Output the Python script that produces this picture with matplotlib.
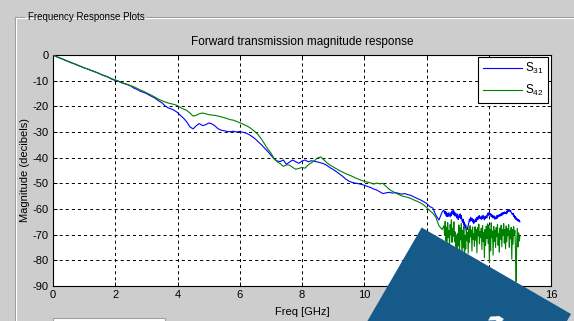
import numpy as np
import matplotlib
matplotlib.use("Agg")
import matplotlib.pyplot as plt
from matplotlib.patches import Polygon, Rectangle
from matplotlib.lines import Line2D

plt.rcParams['font.family'] = ['Liberation Sans', 'DejaVu Sans']
plt.rcParams['mathtext.fontset'] = 'custom'
plt.rcParams['mathtext.rm'] = 'Liberation Sans'
plt.rcParams['mathtext.it'] = 'Liberation Sans'
plt.rcParams['lines.scale_dashes'] = False

# ---------------- data ----------------
freq_smooth = np.round(np.arange(0.0, 12.5001, 0.1), 2)     # GHz
freq_noisy = np.round(np.arange(12.56, 15.0001, 0.02), 2)   # GHz

s31_smooth = [
    0.0, -0.6, -1.1, -1.6, -2.1, -2.6, -3.1, -3.5, -4.0, -4.5,
    -5.0, -5.4, -5.9, -6.3, -6.8, -7.3, -7.9, -8.3, -8.8, -9.5,
    -9.9, -10.2, -10.8, -11.2, -11.6, -12.1, -12.9, -13.4, -14.1, -14.5,
    -15.0, -15.7, -16.3, -17.0, -17.9, -18.6, -19.8, -20.6, -21.0, -21.6,
    -22.4, -23.6, -24.7, -26.1, -28.0, -28.8, -27.6, -26.7, -27.5, -27.2,
    -26.5, -26.8, -27.6, -28.7, -29.3, -29.5, -29.8, -29.9, -29.7, -30.0,
    -29.8, -30.1, -30.4, -31.0, -31.8, -32.7, -33.9, -35.0, -36.3, -37.6,
    -39.0, -40.4, -41.3, -41.5, -40.9, -42.6, -41.7, -40.9, -41.6, -42.2,
    -41.3, -40.9, -41.6, -41.2, -41.4, -41.7, -42.0, -42.4, -43.0, -43.9,
    -44.6, -45.4, -46.3, -47.2, -48.3, -49.1, -49.6, -49.9, -50.1, -50.4,
    -50.7, -51.2, -51.6, -52.2, -52.6, -53.3, -54.0, -53.7, -53.5, -53.8,
    -53.6, -53.9, -54.2, -54.0, -54.4, -54.7, -55.3, -55.9, -56.4, -57.1,
    -57.8, -59.0, -59.6, -62.4, -64.3, -61.2,
]
s31_noisy = [
    -60.4, -61.8, -60.9, -62.5, -61.2, -63.0, -61.7, -62.9, -61.4, -62.2,
    -63.1, -61.5, -62.6, -60.8, -61.9, -60.5, -62.3, -61.1, -62.8, -61.6,
    -62.4, -63.5, -62.0, -64.1, -62.7, -63.3, -61.9, -63.8, -62.5, -64.6,
    -65.2, -64.0, -66.3, -65.1, -67.4, -66.2, -68.5, -67.1, -68.0, -66.4,
    -65.3, -63.9, -64.8, -63.2, -64.5, -63.6, -65.1, -64.0, -65.6, -64.4,
    -65.0, -63.8, -64.9, -63.3, -64.2, -62.8, -63.9, -62.5, -63.6, -63.1,
    -64.0, -62.7, -63.8, -62.4, -63.5, -64.2, -62.9, -63.7, -62.6, -63.4,
    -62.1, -61.5, -62.6, -61.2, -62.3, -61.8, -63.0, -62.2, -63.4, -62.6,
    -63.5, -62.7, -64.0, -63.1, -63.8, -62.5, -63.6, -62.4, -63.0, -62.2,
    -62.8, -61.9, -62.6, -61.5, -62.3, -61.4, -62.0, -61.1, -61.8, -61.3,
    -61.9, -60.8, -61.5, -60.3, -61.0, -60.2, -60.9, -60.5, -61.3, -61.8,
    -62.2, -61.6, -62.9, -62.4, -63.6, -63.0, -64.2, -63.5, -64.6, -64.0,
    -64.8, -64.3, -65.0,
]

s42_smooth = [
    0.0, -0.6, -1.0, -1.5, -2.0, -2.5, -3.0, -3.5, -4.0, -4.5,
    -5.0, -5.4, -5.9, -6.4, -6.8, -7.3, -7.8, -8.2, -8.8, -9.3,
    -9.7, -10.2, -10.7, -11.1, -11.5, -12.0, -12.4, -13.0, -13.6, -14.1,
    -14.7, -15.3, -15.9, -16.6, -17.3, -17.8, -18.3, -18.7, -19.0, -19.3,
    -19.7, -20.5, -21.1, -21.6, -22.6, -23.8, -23.5, -22.9, -22.6, -22.9,
    -23.2, -23.4, -23.5, -23.8, -24.1, -24.4, -24.8, -25.2, -25.4, -25.9,
    -26.4, -26.9, -27.5, -28.1, -29.0, -30.0, -31.2, -32.8, -34.7, -36.6,
    -38.2, -40.2, -41.6, -42.3, -43.4, -42.8, -42.9, -43.8, -44.5, -44.2,
    -43.8, -44.1, -42.8, -42.0, -41.2, -40.1, -39.7, -40.8, -42.0, -42.9,
    -43.6, -44.3, -45.0, -45.6, -46.2, -46.7, -47.2, -47.8, -48.3, -48.8,
    -49.2, -49.5, -49.8, -50.3, -49.9, -50.2, -50.0, -51.2, -52.3, -53.1,
    -53.7, -54.3, -54.9, -55.2, -55.5, -55.9, -56.5, -57.0, -57.6, -58.3,
    -59.4, -60.6, -61.6, -63.2, -66.5, -68.0,
]
s42_noisy = [
    -66.5, -70.2, -64.8, -72.5, -67.0, -74.1, -65.3, -71.0, -68.4, -75.2,
    -66.1, -69.8, -64.2, -73.0, -67.5, -70.6, -65.0, -72.8, -68.9, -76.0,
    -70.1, -85.0, -69.5, -74.3, -66.2, -78.8, -67.4, -72.0, -65.6, -80.5,
    -68.3, -74.9, -66.8, -83.0, -70.2, -75.6, -67.1, -72.4, -69.0, -77.3,
    -67.8, -73.1, -66.5, -70.9, -68.2, -76.4, -67.0, -71.8, -69.6, -74.5,
    -66.9, -72.2, -68.0, -77.1, -67.3, -70.5, -65.9, -73.6, -68.8, -71.0,
    -67.5, -75.8, -66.4, -72.7, -69.1, -79.0, -68.0, -74.2, -66.7, -71.5,
    -65.8, -73.5, -66.2, -81.0, -67.9, -76.3, -65.4, -71.2, -68.6, -78.0,
    -66.8, -72.6, -68.3, -75.0, -67.2, -70.8, -66.0, -74.1, -69.5, -76.8,
    -67.4, -71.9, -66.3, -74.7, -68.1, -70.2, -65.7, -73.3, -67.9, -75.5,
    -66.6, -72.8, -67.7, -70.4, -66.1, -74.9, -68.5, -71.6, -67.2, -79.5,
    -68.0, -73.7, -66.9, -70.0, -68.4, -76.2, -88.3, -72.1, -67.6, -74.8,
    -69.3, -72.5, -70.8,
]

series_labels = ['S$_{31}$', 'S$_{42}$']
series_colors = ['#0000ff', '#008000']
x_ticks = list(range(0, 17, 2))
y_ticks = list(range(-90, 1, 10))

title_text = 'Forward transmission magnitude response'
xlabel_text = 'Freq [GHz]'
ylabel_text = 'Magnitude (decibels)'
panel_text = 'Frequency Response Plots'

# ---------------- figure ----------------
W, H = 574, 321
BG = '#cdcdcd'
fig = plt.figure(figsize=(W / 100, H / 100), dpi=100, facecolor=BG)


def fx(px):
    return px / W


def fy(py):
    return 1 - py / H


# group box (etched)
fig.add_artist(Line2D([fx(15), fx(24)], [fy(17), fy(17)], color='#9a9a9a', lw=0.8))
fig.add_artist(Line2D([fx(146), fx(574)], [fy(17), fy(17)], color='#9a9a9a', lw=0.8))
fig.add_artist(Line2D([fx(15), fx(15)], [fy(17), fy(321)], color='#9a9a9a', lw=0.8))
fig.add_artist(Line2D([fx(16), fx(16)], [fy(18), fy(321)], color='#ffffff', lw=0.8))
fig.add_artist(Line2D([fx(16), fx(574)], [fy(18), fy(18)], color='#ffffff', lw=0.8))
fig.text(fx(28), fy(17), panel_text, fontsize=7, ha='left', va='center',
         family=['Liberation Sans', 'DejaVu Sans'], color='#000000')

# white widget at bottom left
fig.add_artist(Rectangle((fx(53), fy(330)), fx(112), 12 / H, facecolor='white',
                         edgecolor='#a0a0a0', lw=0.8, transform=fig.transFigure))

ax = fig.add_axes([fx(53), fy(286), fx(498), 231 / H])
ax.set_facecolor('white')

f_all = np.concatenate([freq_smooth, freq_noisy])
s31 = np.concatenate([s31_smooth, s31_noisy])
s42 = np.concatenate([s42_smooth, s42_noisy])

ax.plot(f_all, s31, color=series_colors[0], lw=0.8, label=series_labels[0], zorder=3)
ax.plot(f_all, s42, color=series_colors[1], lw=0.8, label=series_labels[1], zorder=3)

ax.set_xlim(0, 16)
ax.set_ylim(-90, 0)
ax.set_xticks(x_ticks)
ax.set_yticks(y_ticks)
ax.set_xticklabels([str(t) for t in x_ticks])
ax.set_yticklabels([str(t) for t in y_ticks])
ax.grid(True, color='black', linestyle=(0, (2.2, 2.2)), linewidth=0.7)
ax.tick_params(direction='in', length=3, width=0.7, labelsize=8, pad=3,
               top=True, right=True, colors='black')
for sp in ax.spines.values():
    sp.set_linewidth(0.8)
    sp.set_color('black')

ax.set_title(title_text, fontsize=8.5, pad=7)
ax.set_xlabel(xlabel_text, fontsize=8, labelpad=5)
ax.set_ylabel(ylabel_text, fontsize=8, labelpad=2)

leg = ax.legend(loc='upper right', bbox_to_anchor=(1 - 3 / 498, 1 - 2 / 231),
                fontsize=8.5, handlelength=3.3, handletextpad=0.3,
                borderaxespad=0, borderpad=0.35, labelspacing=0.6,
                fancybox=False, framealpha=1, edgecolor='black')
leg.get_frame().set_linewidth(0.8)
leg.set_zorder(10)

# overlay polygon (dark blue banner, rotated 30 degrees)
poly_px = [(421.7, 227.5), (571.0, 314.0), (558.9, 335.0), (359.3, 335.0)]
poly = Polygon([(fx(x), fy(y)) for x, y in poly_px], closed=True,
               facecolor='#165a8a', edgecolor='none', transform=fig.transFigure,
               zorder=20)
fig.add_artist(poly)
fig.text(fx(490), fy(310), '1', fontsize=30, fontweight='bold', color='white',
         rotation=-30, ha='center', va='top', zorder=21)

fig.savefig('out.png', dpi=100, facecolor=BG)
